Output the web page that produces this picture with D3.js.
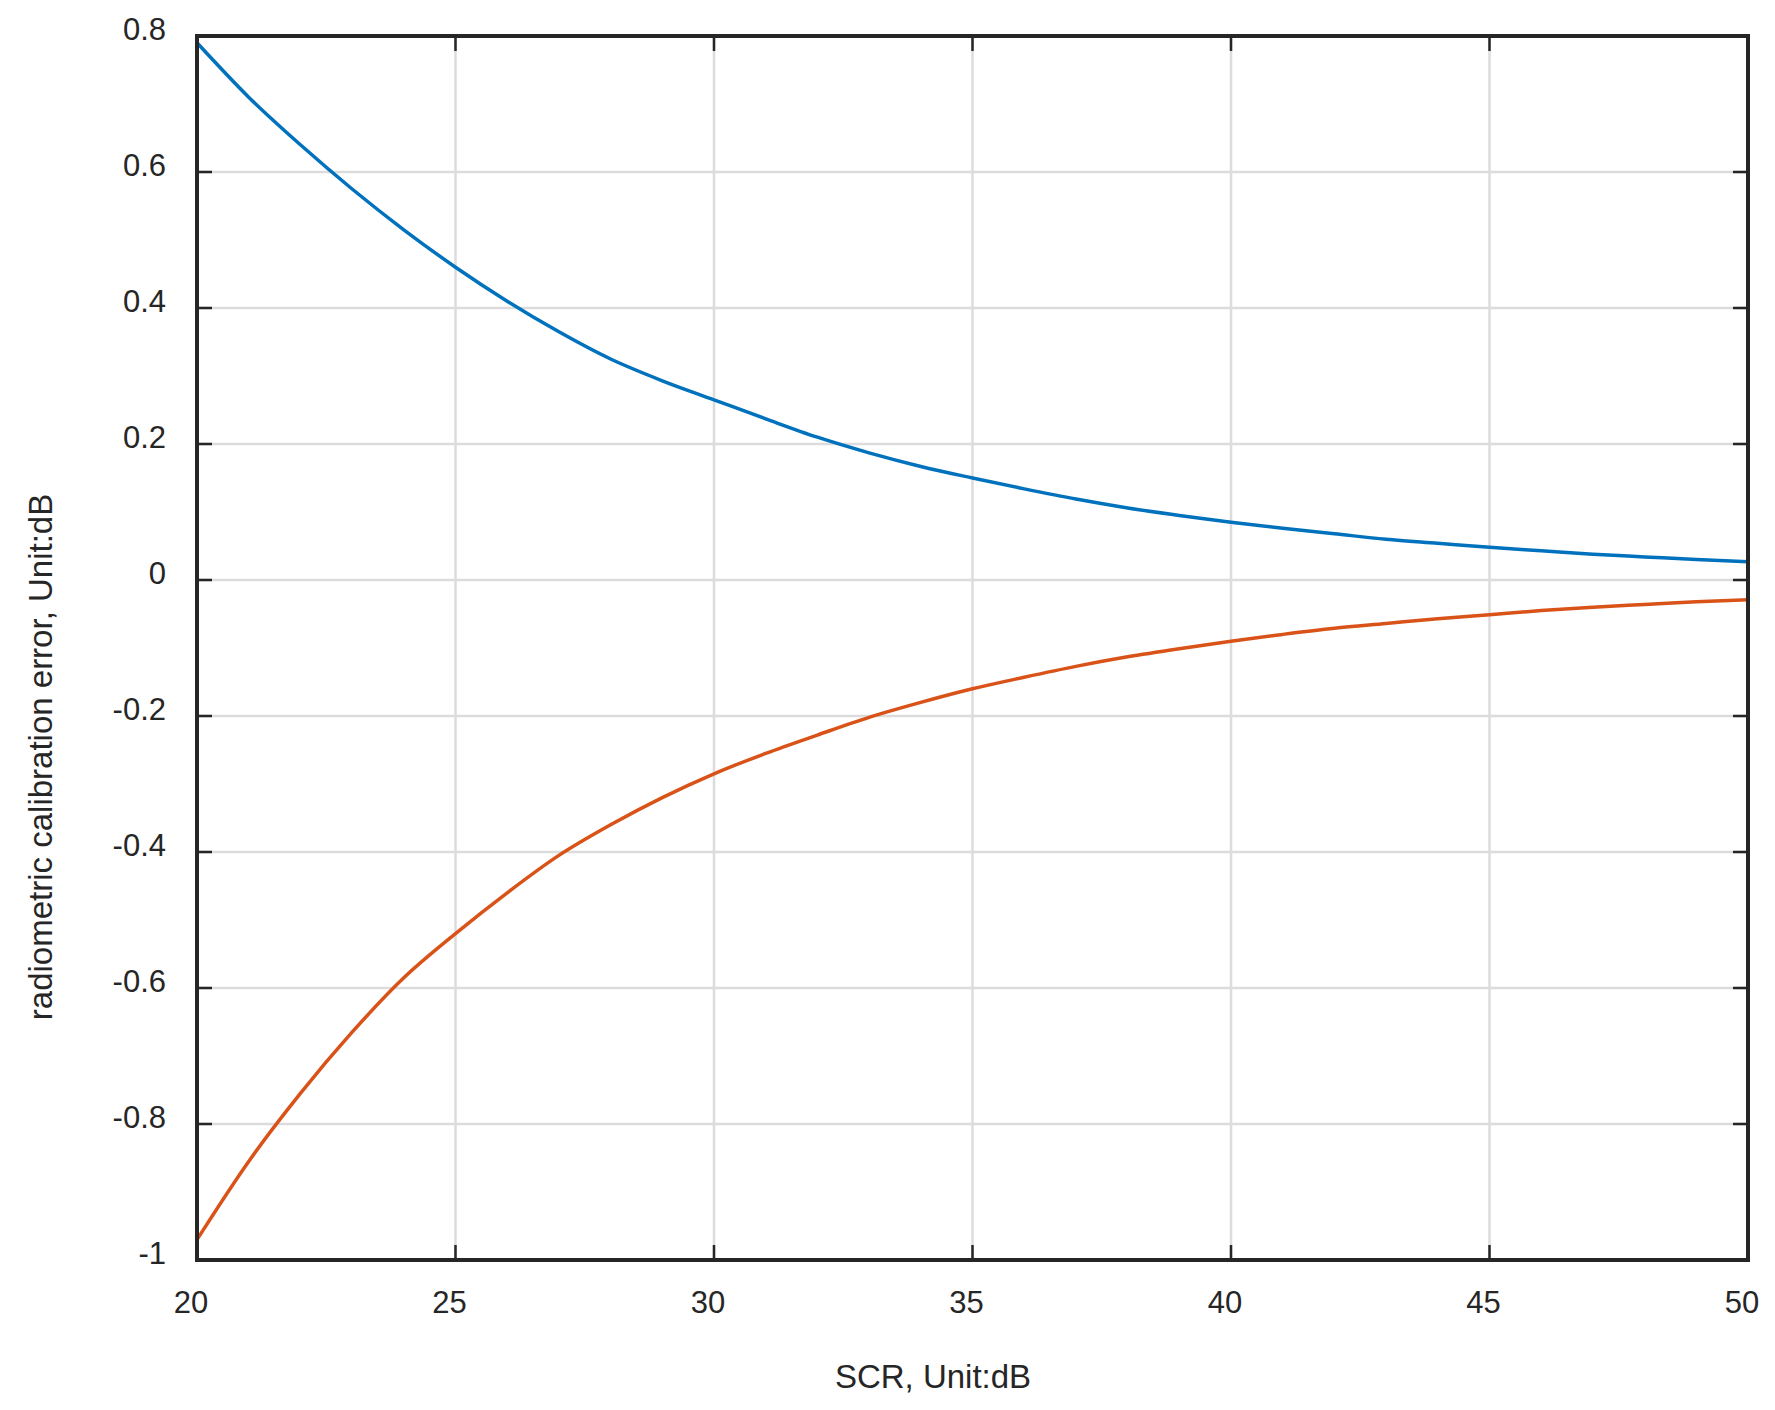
<!DOCTYPE html><html><head><meta charset="utf-8"><script src="https://cdn.jsdelivr.net/npm/d3@7"></script>
<style>body{margin:0;background:#fff}text{font-family:Arial,"Liberation Sans",sans-serif;fill:#262626}</style></head><body><svg id="c" width="1775" height="1410"></svg><script>
const scr=d3.range(20,51);
const upper=[0.79,0.71,0.64,0.575,0.515,0.46,0.41,0.365,0.325,0.293,0.265,0.237,0.21,0.187,0.167,0.15,0.134,0.119,0.106,0.095,0.085,0.076,0.068,0.06,0.054,0.048,0.043,0.038,0.034,0.030,0.027];
const lower=[-0.97,-0.855,-0.755,-0.665,-0.585,-0.52,-0.46,-0.405,-0.36,-0.32,-0.285,-0.255,-0.228,-0.202,-0.18,-0.16,-0.143,-0.127,-0.113,-0.101,-0.09,-0.08,-0.071,-0.064,-0.057,-0.051,-0.045,-0.04,-0.036,-0.032,-0.029];
const xTicks=[20,25,30,35,40,45,50];
const yTicks=[-1,-0.8,-0.6,-0.4,-0.2,0,0.2,0.4,0.6,0.8];
const L=197,T=36,R=1748,B=1260;
const svg=d3.select("#c");
const x=d3.scaleLinear().domain([20,50]).range([L,R]);
const y=d3.scaleLinear().domain([-1,0.8]).range([B,T]);
const g=svg.append("g");
g.selectAll(".gx").data(xTicks).join("line").attr("x1",d=>x(d)).attr("x2",d=>x(d)).attr("y1",T).attr("y2",B).attr("stroke","#dcdcdc").attr("stroke-width",2.5);
g.selectAll(".gy").data(yTicks).join("line").attr("y1",d=>y(d)).attr("y2",d=>y(d)).attr("x1",L).attr("x2",R).attr("stroke","#dcdcdc").attr("stroke-width",2.5);
const line=d3.line().x((d,i)=>x(scr[i])).y(d=>y(d)).curve(d3.curveMonotoneX);
svg.append("path").datum(upper).attr("d",line).attr("fill","none").attr("stroke","#0072BD").attr("stroke-width",3.5);
svg.append("path").datum(lower).attr("d",line).attr("fill","none").attr("stroke","#D95319").attr("stroke-width",3.5);
const tl=15;
svg.selectAll(".tb").data(xTicks).join("path").attr("d",d=>`M${x(d)},${B}v${-tl}M${x(d)},${T}v${tl}`).attr("stroke","#262626").attr("stroke-width",2.5);
svg.selectAll(".tl").data(yTicks).join("path").attr("d",d=>`M${L},${y(d)}h${tl}M${R},${y(d)}h${-tl}`).attr("stroke","#262626").attr("stroke-width",2.5);
svg.append("rect").attr("x",L).attr("y",T).attr("width",R-L).attr("height",B-T).attr("fill","none").attr("stroke","#262626").attr("stroke-width",4);
svg.selectAll(".xl").data(xTicks).join("text").attr("x",d=>x(d)-6).attr("y",1313).attr("text-anchor","middle").attr("font-size",31).text(d=>d);
svg.selectAll(".yl").data(yTicks).join("text").attr("x",166).attr("y",d=>y(d)+4).attr("text-anchor","end").attr("font-size",31).text(d=>String(d));
svg.append("text").attr("x",933).attr("y",1388).attr("text-anchor","middle").attr("font-size",33).text("SCR, Unit:dB");
svg.append("text").attr("transform",`translate(52,757) rotate(-90)`).attr("text-anchor","middle").attr("font-size",33).text("radiometric calibration error, Unit:dB");
</script></body></html>
